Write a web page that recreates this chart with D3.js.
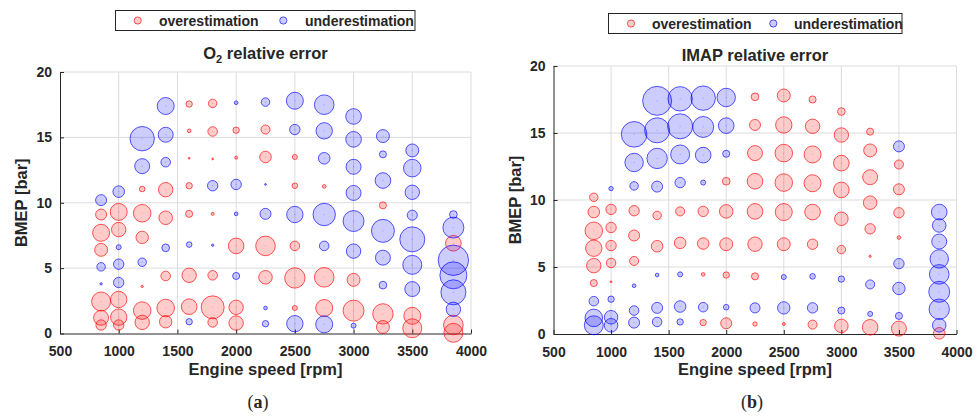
<!DOCTYPE html>
<html><head><meta charset="utf-8">
<script src="https://cdn.jsdelivr.net/npm/d3@7"></script>
<style>
body{margin:0;background:#fff}
svg{display:block}
text{font-family:"Liberation Sans",Arial,Helvetica,sans-serif;fill:#262626}
</style>
</head><body>
<svg id="c" width="980" height="418"></svg>
<script>
// Engine speeds [rpm] of the operating points
const speeds = [850, 1000, 1200, 1400, 1600, 1800, 2000, 2250, 2500, 2750, 3000, 3250, 3500, 3850];
// BMEP [bar] of the operating points, one list per engine speed
const bmep = [
  [10.2, 9.1, 7.7, 6.4, 5.1, 3.8, 2.45, 1.2, 0.65],
  [10.85, 9.3, 7.95, 6.6, 5.3, 3.9, 2.6, 1.25, 0.65],
  [14.9, 12.8, 11.05, 9.2, 7.35, 5.45, 3.6, 1.75, 0.85],
  [17.4, 15.2, 13.1, 11.0, 8.85, 6.55, 4.4, 1.95, 0.9],
  [17.55, 15.5, 13.4, 11.3, 9.15, 6.8, 4.45, 2.05, 0.9],
  [17.6, 15.45, 13.35, 11.3, 9.15, 6.75, 4.45, 2.0, 0.85],
  [17.65, 15.55, 13.45, 11.4, 9.15, 6.7, 4.4, 2.0, 0.8],
  [17.7, 15.6, 13.5, 11.4, 9.15, 6.7, 4.3, 1.95, 0.75],
  [17.8, 15.6, 13.5, 11.3, 9.1, 6.7, 4.25, 1.95, 0.75],
  [17.5, 15.5, 13.4, 11.25, 9.1, 6.7, 4.3, 1.95, 0.7],
  [16.6, 14.85, 12.75, 10.75, 8.6, 6.3, 4.1, 1.75, 0.6],
  [15.1, 13.7, 11.7, 9.8, 7.85, 5.8, 3.7, 1.5, 0.5],
  [14.0, 12.65, 10.8, 9.05, 7.2, 5.25, 3.4, 1.35, 0.4],
  [9.1, 8.1, 6.9, 5.6, 4.45, 3.15, 1.85, 0.65, 0.05]
];
// O2 relative error (positive = overestimation, negative = underestimation)
const o2Error = [
  [-4.0, 4.0, 9.0, 5.4, -2.5, -0.3, 11.1, 7.1, 3.6],
  [-4.4, 9.0, 6.6, -1.0, -3.6, -3.6, 8.4, 8.4, 3.6],
  [-17.9, -7.1, 1.2, 9.6, 5.0, -2.5, 0.3, 9.6, 6.6],
  [-9.0, -7.1, -3.1, 6.6, 5.9, -2.1, 3.1, 9.6, 5.0],
  [1.5, 0.6, 0.2, 1.5, 1.8, -1.2, 6.6, 7.7, -1.5],
  [2.5, 3.1, 0.2, -3.6, 0.45, -0.3, 3.1, 16.0, 3.1],
  [-0.6, 1.5, 0.45, -3.6, -0.6, 7.7, -1.8, 6.6, 6.6],
  [-2.5, 2.8, 4.4, -0.2, -4.0, 11.8, 5.9, -0.6, -1.5],
  [-9.0, -3.6, 1.0, 1.2, -8.4, 3.1, 12.7, 1.0, -8.4],
  [-11.8, -8.4, -4.4, 0.6, -15.2, -3.1, 11.8, 9.0, -9.0],
  [-7.7, -7.7, -7.1, -7.1, -13.4, -6.6, 5.4, 13.4, -1.0],
  [-5.4, -1.8, -7.7, 1.8, -16.0, -7.1, -2.1, 12.7, 5.4],
  [-5.4, -9.6, -6.6, -3.4, -18.8, -11.1, -7.1, 9.0, 11.1],
  [-2.1, -13.4, 7.7, -27.4, -21.8, -18.8, -6.6, 11.8, 11.1]
];
// IMAP relative error (positive = overestimation, negative = underestimation)
const imapError = [
  [2.5, 4.4, 9.6, 8.4, 6.6, 1.8, -3.1, -9.6, -11.1],
  [-0.8, 3.6, 3.6, 3.6, 3.1, 0.2, -1.5, -5.9, -5.9],
  [-19.7, -10.5, -2.5, 3.6, 4.0, 2.8, -0.6, -3.1, -4.0],
  [-25.0, -18.8, -12.7, -4.0, 2.5, 4.4, -0.6, -4.0, -3.1],
  [-17.9, -18.8, -11.1, -3.6, 2.8, 4.4, -1.0, -4.4, -1.5],
  [-17.9, -13.4, -7.7, -1.0, 3.6, 4.4, 0.6, -3.1, 1.5],
  [-10.5, -7.7, -1.8, 2.1, 5.9, 5.4, 1.5, -1.2, 4.0],
  [2.1, 4.0, 7.1, 7.7, 7.7, 6.6, 1.8, -3.4, 0.8],
  [5.4, 8.4, 9.6, 9.6, 9.0, 5.4, -1.0, -5.0, 0.45],
  [1.8, 6.6, 9.0, 9.0, 7.7, 3.6, -1.2, -3.6, 2.8],
  [2.1, 6.6, 7.7, 7.7, 5.9, 2.5, -1.5, -1.8, 5.9],
  [1.8, 5.4, 7.1, 5.9, 3.6, 0.3, -2.8, -1.0, 7.7],
  [-4.0, 2.8, 4.0, 3.6, 0.6, -3.6, -5.0, -1.8, 7.1],
  [-7.7, -5.9, -7.1, -10.5, -11.8, -13.4, -12.7, -5.9, 4.4]
];
const xTicks = [500, 1000, 1500, 2000, 2500, 3000, 3500, 4000];
const yTicks = [0, 5, 10, 15, 20];
const legendLabels = ["overestimation", "underestimation"];
const xTitle = "Engine speed [rpm]";
const yTitle = "BMEP [bar]";

const svg = d3.select("#c");
const RED = "#ff0000", BLUE = "#0000ff";
const rScale = d3.scaleSqrt().domain([0, 25]).range([0, 15]);
const FONT = '"Liberation Sans",Arial,Helvetica,sans-serif';

function panel(cfg) {
  const g = svg.append("g");
  const x = d3.scaleLinear().domain([500, 4000]).range([cfg.x0, cfg.x1]);
  const y = d3.scaleLinear().domain([0, 20]).range([cfg.yb, cfg.yt]);

  // grid
  g.append("g").selectAll("line").data(xTicks.slice(1)).join("line")
    .attr("x1", d => x(d)).attr("x2", d => x(d)).attr("y1", cfg.yb).attr("y2", cfg.yt)
    .attr("stroke", "#dcdcdc").attr("stroke-width", 1);
  g.append("g").selectAll("line").data(yTicks.slice(1)).join("line")
    .attr("x1", cfg.x0).attr("x2", cfg.x1).attr("y1", d => y(d)).attr("y2", d => y(d))
    .attr("stroke", "#dcdcdc").attr("stroke-width", 1);

  // axes
  const fmt = d3.format("d");
  const ax = g.append("g").attr("transform", `translate(0,${cfg.yb})`)
    .call(d3.axisBottom(x).tickValues(xTicks).tickFormat(fmt).tickSize(-4).tickSizeOuter(0).tickPadding(13));
  const ay = g.append("g").attr("transform", `translate(${cfg.x0},0)`)
    .call(d3.axisLeft(y).tickValues(yTicks).tickFormat(fmt).tickSize(-4).tickSizeOuter(0).tickPadding(8));
  [ax, ay].forEach(a => {
    a.attr("font-family", FONT).attr("font-size", 14).attr("font-weight", "bold");
    a.select(".domain").attr("stroke", "#262626").attr("stroke-width", 1);
    a.selectAll(".tick line").attr("stroke", "#262626");
    a.selectAll(".tick text").attr("fill", "#262626");
  });

  // points
  const pts = [];
  speeds.forEach((s, i) => bmep[i].forEach((b, j) => pts.push({ s, b, e: cfg.err[i][j] })));
  const ordered = pts.filter(p => p.e > 0).concat(pts.filter(p => p.e <= 0));
  const bub = g.append("g");
  bub.selectAll("circle").data(ordered).join("circle")
    .attr("cx", d => x(d.s)).attr("cy", d => y(d.b))
    .attr("r", d => Math.max(0.9, rScale(Math.abs(d.e)) - 0.5))
    .attr("fill", d => d.e > 0 ? RED : BLUE).attr("fill-opacity", 0.2)
    .attr("stroke", d => d.e > 0 ? RED : BLUE).attr("stroke-opacity", 0.65).attr("stroke-width", 1);
  bub.selectAll("rect").data(ordered).join("rect")
    .attr("x", d => x(d.s) - 0.5).attr("y", d => y(d.b) - 0.5).attr("width", 1).attr("height", 1)
    .attr("fill", d => d.e > 0 ? RED : BLUE).attr("opacity", 0.25);

  // title
  const t = g.append("text").attr("x", (cfg.x0 + cfg.x1) / 2).attr("y", cfg.titleY)
    .attr("text-anchor", "middle").style("font-size", "16.5px").style("font-weight", "bold");
  cfg.title(t);

  // axis titles
  g.append("text").attr("x", (cfg.x0 + cfg.x1) / 2).attr("y", 375).attr("text-anchor", "middle")
    .style("font-size", "16.5px").style("font-weight", "bold").text(xTitle);
  g.append("text").attr("transform", `translate(${cfg.yTitleX},${(cfg.yt + cfg.yb) / 2}) rotate(-90)`)
    .attr("text-anchor", "middle").style("font-size", "16.5px").style("font-weight", "bold").text(yTitle);

  // legend
  const L = cfg.legend;
  g.append("rect").attr("x", L.x).attr("y", L.y).attr("width", L.w).attr("height", 20)
    .attr("fill", "#fff").attr("stroke", "#262626").attr("stroke-width", 1);
  [RED, BLUE].forEach((c, k) => {
    g.append("circle").attr("cx", L.mx[k]).attr("cy", L.y + 10).attr("r", 3.6)
      .attr("fill", c).attr("fill-opacity", 0.2).attr("stroke", c).attr("stroke-opacity", 0.65);
    g.append("text").attr("x", L.tx[k]).attr("y", L.y + 15).style("font-size", "14px")
      .style("font-weight", "bold").attr("fill", "#000").text(legendLabels[k]);
  });

  // panel label
  const pl = g.append("text").attr("x", cfg.labelX).attr("y", 408).attr("text-anchor", "middle")
    .style("font-family", '"Liberation Serif","Times New Roman",serif').style("font-size", "18px").attr("fill", "#000");
  pl.append("tspan").text("(");
  pl.append("tspan").style("font-weight", "bold").text(cfg.label);
  pl.append("tspan").text(")");
}

panel({
  x0: 60, x1: 471, yt: 72, yb: 333.5, err: o2Error, titleY: 59, yTitleX: 27, labelX: 258,
  legend: { x: 115.5, y: 10.5, w: 299.5, mx: [137.7, 283.3], tx: [159, 305] },
  label: "a",
  title: t => {
    t.append("tspan").text("O");
    t.append("tspan").attr("dy", 4).style("font-size", "11px").text("2");
    t.append("tspan").attr("dy", -4).text(" relative error");
  }
});
panel({
  x0: 553.5, x1: 956.5, yt: 66, yb: 334, err: imapError, titleY: 60.5, yTitleX: 521, labelX: 752,
  legend: { x: 608.5, y: 13.5, w: 293.5, mx: [631, 773.3], tx: [652, 794] },
  label: "b",
  title: t => t.text("IMAP relative error")
});
</script>
</body></html>
